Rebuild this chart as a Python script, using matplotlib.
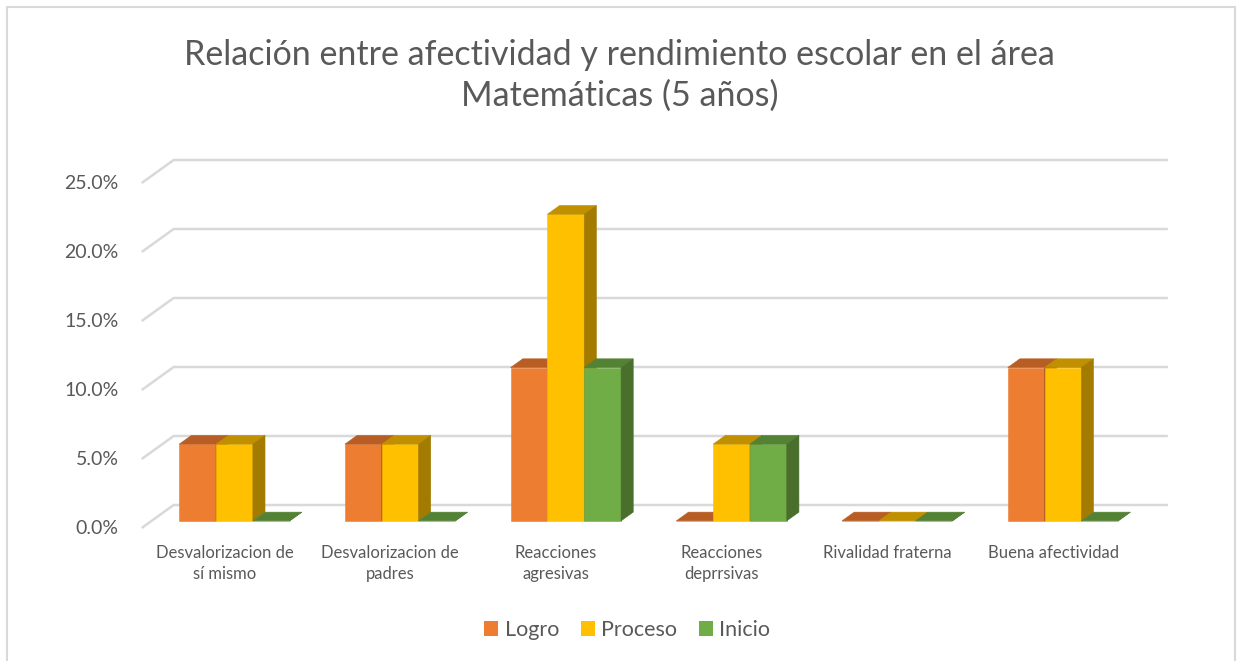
import matplotlib.pyplot as plt
from matplotlib.patches import Polygon, Patch, Rectangle

# data (percent)
categories = ["Desvalorizacion de\nsí mismo", "Desvalorizacion de\npadres",
              "Reacciones\nagresivas", "Reacciones\ndeprrsivas",
              "Rivalidad fraterna", "Buena afectividad"]
series_names = ["Logro", "Proceso", "Inicio"]
logro = [5.56, 5.56, 11.11, 0.0, 0.0, 11.11]
proceso = [5.56, 5.56, 22.22, 5.56, 0.0, 11.11]
inicio = [0.0, 0.0, 11.11, 5.56, 0.0, 0.0]
y_ticks = [0, 5, 10, 15, 20, 25]

front_colors = ["#ED7D31", "#FFC000", "#70AD47"]
top_colors = ["#B85E25", "#C09000", "#548235"]
side_colors = ["#A5561F", "#A37B00", "#4A6F2D"]
text_color = "#595959"
grid_color = "#D9D9D9"

plt.rcParams['font.family'] = ['Lato', 'DejaVu Sans']

# oblique "3d" depth of the floor, in data units (categories / percent)
DX, DY = 0.193, 1.667
F0, F1 = 0.31, 0.69   # bar front/back position inside the depth
bar_w = 1 / 4.5       # gap width 150%

fig = plt.figure(figsize=(12.37, 6.61), dpi=100)
ax = fig.add_axes([0.10784, 0.18033, 0.8439, 0.58457])
ax.set_xlim(-0.05, 6.25)
ax.set_ylim(-1, 27)
ax.axis('off')

n = len(categories)
for v in y_ticks:
    ax.plot([0, DX, n + DX], [v, v + DY, v + DY], color=grid_color, lw=1.8,
            zorder=1, solid_capstyle='butt')
    ax.text(-0.14, v, f"{v:.1f}%", ha='right', va='center', fontsize=14,
            color=text_color)


def draw_bar(x0, h, k):
    fx, fy = x0 + F0 * DX, F0 * DY
    bx, by = (F1 - F0) * DX, (F1 - F0) * DY
    front = [(fx, fy), (fx + bar_w, fy), (fx + bar_w, fy + h), (fx, fy + h)]
    top = [(fx, fy + h), (fx + bar_w, fy + h), (fx + bar_w + bx, fy + h + by),
           (fx + bx, fy + h + by)]
    side = [(fx + bar_w, fy), (fx + bar_w + bx, fy + by),
            (fx + bar_w + bx, fy + h + by), (fx + bar_w, fy + h)]
    for pts, c in ((front, front_colors[k]), (top, top_colors[k]),
                   (side, side_colors[k])):
        ax.add_patch(Polygon(pts, closed=True, facecolor=c, edgecolor=c,
                             lw=0.4, zorder=3))


all_series = [logro, proceso, inicio]
for i in range(n):
    start = i + 0.5 - 1.5 * bar_w
    for k, vals in enumerate(all_series):
        draw_bar(start + k * bar_w, vals[i], k)
    ax.text(i + 0.5, -1.2, categories[i], ha='center', va='top', fontsize=12,
            color=text_color, linespacing=1.4)

fig.text(0.501, 0.9405, "Relación entre afectividad y rendimiento escolar en el área\nMatemáticas (5 años)",
         ha='center', va='top', fontsize=24.5, color=text_color, linespacing=1.32)

handles = [Patch(facecolor=c, edgecolor='none') for c in front_colors]
fig.legend(handles, series_names, loc='center', bbox_to_anchor=(0.507, 0.047),
           ncol=3, frameon=False, fontsize=15.5, labelcolor=text_color,
           handlelength=0.65, handleheight=0.65, handletextpad=0.3,
           columnspacing=1.0)

fig.add_artist(Rectangle((7 / 1237, -0.02), 1228 / 1237, 654 / 661 + 0.02,
                         transform=fig.transFigure, fill=False,
                         edgecolor=grid_color, lw=1.5))

fig.savefig("out.png", dpi=100, facecolor='white')
